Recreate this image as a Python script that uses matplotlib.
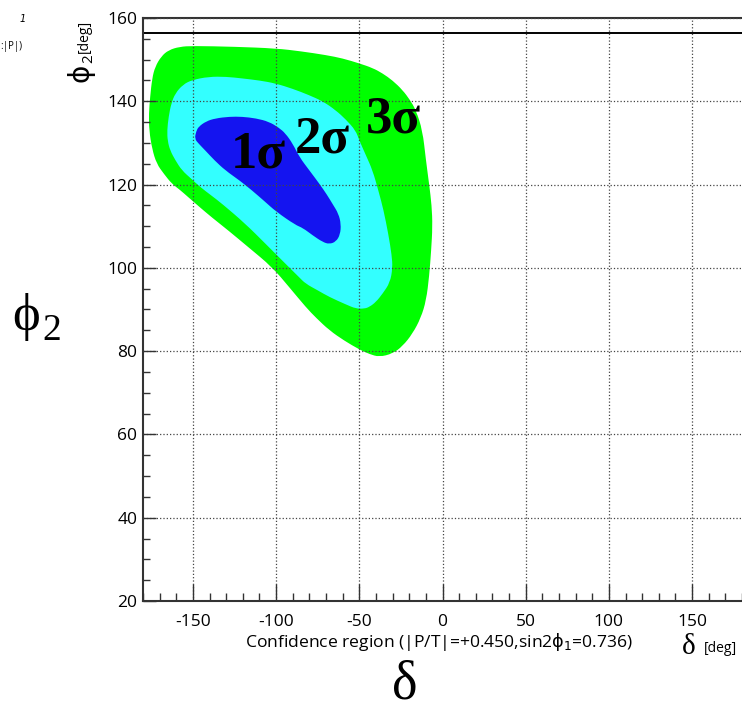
import matplotlib
matplotlib.use('Agg')
import matplotlib.pyplot as plt
from matplotlib.path import Path
from matplotlib.patches import PathPatch
from matplotlib.ticker import MultipleLocator

plt.rcParams['axes.unicode_minus'] = False

# confidence region outlines, (delta [deg], phi2 [deg])
sig3_delta = [-176.5, -175.7, -174.5, -172.7, -169, -164.6, -158, -150, -125, -100, -85,
              -70, -60, -50, -42, -36, -30, -24, -19.5, -16, -12, -10, -8, -6.5, -6,
              -6.8, -8, -9.8, -13, -18, -24, -30, -38, -44, -50, -59, -68, -76, -82,
              -92, -102.4, -116.5, -128.5, -138.6, -146, -152.6, -158, -162.7, -167.5,
              -171.8, -174.5, -176.3]
sig3_phi2 = [137, 141.1, 145.5, 148.3, 150.8, 152.3, 153.1, 153.3, 153.1, 152.7, 152,
             151.1, 150.3, 149.1, 148, 146.7, 145, 142.7, 140.3, 137.9, 133, 126, 120, 115, 110,
             104.2, 98, 92.2, 88, 84.2, 81.2, 79.4, 78.6, 79.3, 80.4, 82.5, 85, 88, 90.5,
             95.3, 100.2, 104.9, 108.9, 112.1, 114.6, 116.9, 118.8, 120.2, 122.6,
             125, 128.5, 133]

sig2_delta = [-165.5, -164.6, -163, -160.6, -156, -150.6, -140.6, -130, -120.5, -110,
              -100.4, -90, -80.3, -72, -64.3, -58, -52.2, -50, -46, -42, -38.5, -35.5,
              -32.5, -30.5, -30, -31.5, -36, -40, -44, -47, -52, -58, -68, -75, -82.3,
              -86.3, -94.4, -106.4, -118.5, -132.5, -139, -145.6, -151, -156.6, -160.5,
              -163.7, -165.2]
sig2_phi2 = [133, 136.3, 139.5, 141.9, 144, 145.1, 145.9, 145.9, 145.5, 145,
             144.3, 143, 141.5, 140, 137.9, 135.6, 133, 130.6, 127, 123.4, 118.5, 114,
             108, 103, 100, 96.5, 93.8, 91.8, 90.6, 90.2, 90.2, 91.2, 93, 94.6, 96.2,
             97.8, 101, 105.8, 110.6, 115.4, 117.4, 119.4, 121.4, 123.4, 125.8,
             128.2, 130.5]

sig1_delta = [-149, -148, -146.6, -142, -136.5, -128, -120.5, -112, -104.4, -98.5, -94.4,
              -90, -86, -80, -74, -69.5, -66, -62.5, -61, -61.5, -64, -68, -72, -78,
              -84, -88.4, -100, -107, -114.5, -122, -130.5, -137, -142.6, -146.5]
sig1_phi2 = [131, 132.8, 133.9, 135.2, 135.9, 136.3, 136.3, 135.9, 135.1, 133.7, 132.3,
             129.8, 126.6, 123.4, 120.2, 117.6, 115.3, 113, 110.5, 108, 106.3, 105.7, 106.2, 107.8,
             109.6, 110.3, 113.5, 116, 118.6, 121, 123.4, 125.8, 128.2, 129.8]

regions = [(sig3_delta, sig3_phi2, '#00ff00'),
           (sig2_delta, sig2_phi2, '#33ffff'),
           (sig1_delta, sig1_phi2, '#1414f0')]

# label anchors (left, baseline)
sigma_labels = ['1σ', '2σ', '3σ']
sigma_delta = [-127, -89, -46]
sigma_phi2 = [124.2, 127.8, 132.6]

phi2_line = 156.4


def smooth_patch(xs, ys, color):
    # closed outline drawn as quadratic curves through the midpoints
    n = len(xs)
    mids = [((xs[i] + xs[(i + 1) % n]) / 2, (ys[i] + ys[(i + 1) % n]) / 2) for i in range(n)]
    verts = [mids[-1]]
    codes = [Path.MOVETO]
    for i in range(n):
        verts += [(xs[i], ys[i]), mids[i]]
        codes += [Path.CURVE3, Path.CURVE3]
    verts.append(mids[-1])
    codes.append(Path.CLOSEPOLY)
    return PathPatch(Path(verts, codes), facecolor=color, edgecolor='none', lw=0)


fig = plt.figure(figsize=(7.42, 7.13), dpi=100)
ax = fig.add_axes([143 / 742, 1 - 601 / 713, 1 - 143 / 742, (601 - 18) / 713])

for xs, ys, c in regions:
    ax.add_patch(smooth_patch(xs, ys, c))

ax.axhline(phi2_line, color='black', lw=1.4)

for lab, x, y in zip(sigma_labels, sigma_delta, sigma_phi2):
    ax.text(x, y, lab, fontsize=38, fontweight='bold', ha='left', va='baseline',
            family=['Liberation Serif', 'DejaVu Serif'])

ax.set_xlim(-180, 180)
ax.set_ylim(20, 160)
ax.xaxis.set_major_locator(MultipleLocator(50))
ax.xaxis.set_minor_locator(MultipleLocator(10))
ax.yaxis.set_major_locator(MultipleLocator(20))
ax.yaxis.set_minor_locator(MultipleLocator(5))
ax.grid(True, which='major', linestyle=':', color='#444444', lw=0.9)
ax.set_axisbelow(False)

ax.tick_params(axis='x', which='major', direction='in', length=12, width=1, pad=9,
               labelsize=12.5, colors='#333333', labelcolor='black')
ax.tick_params(axis='x', which='minor', direction='in', length=6, width=1, colors='#333333')
ax.tick_params(axis='y', which='major', direction='in', length=9, width=1, pad=4,
               labelsize=12.5, colors='#333333', labelcolor='black')
ax.tick_params(axis='y', which='minor', direction='in', length=5, width=1, colors='#333333')
ax.tick_params(top=False, right=False, which='both')
for lbl in ax.get_xticklabels() + ax.get_yticklabels():
    lbl.set_family('Open Sans')

ax.spines['right'].set_visible(False)
for s in ['left', 'bottom', 'top']:
    ax.spines[s].set_linewidth(1.5)
    ax.spines[s].set_color('#333333')

# axis titles
fig.text(80 / 742, 1 - 73 / 713, 'ϕ', fontsize=20, rotation=90, ha='center', va='center',
         family='DejaVu Sans')
fig.text(89 / 742, 1 - 59 / 713, '2', fontsize=11, rotation=90, ha='center', va='center',
         family='Open Sans')
fig.text(84 / 742, 1 - 36 / 713, '[deg]', fontsize=10, rotation=90, ha='center', va='center',
         family='Open Sans')
fig.text(439 / 742, 1 - 642 / 713, r'Confidence region (|P/T|=+0.450,sin2$\mathrm{\phi}_1$=0.736)',
         fontsize=12.6, ha='center', va='center', family='Open Sans')
fig.text(682 / 742, 1 - 654 / 713, 'δ', fontsize=21, ha='left', va='baseline',
         family=['Liberation Serif', 'DejaVu Serif'])
fig.text(704 / 742, 1 - 652 / 713, '[deg]', fontsize=10, ha='left', va='baseline',
         family='Open Sans')

# large symbols
fig.text(12 / 742, 1 - 317 / 713, 'ϕ', fontsize=38, ha='left', va='center',
         family=['Liberation Serif', 'DejaVu Serif'])
fig.text(42 / 742, 1 - 340 / 713, '2', fontsize=27, ha='left', va='baseline',
         family=['Liberation Serif', 'DejaVu Serif'])
fig.text(405 / 742, 1 - 685 / 713, 'δ', fontsize=39, ha='center', va='center',
         family=['Liberation Serif', 'DejaVu Serif'])

# fragments of the neighbouring panel
fig.text(20 / 742, 1 - 22 / 713, '1', fontsize=7, style='italic', ha='left', va='baseline')
fig.text(0, 1 - 49 / 713, ':|P|)', fontsize=7, ha='left', va='baseline', family='Open Sans')

fig.savefig('out.png', dpi=100)
